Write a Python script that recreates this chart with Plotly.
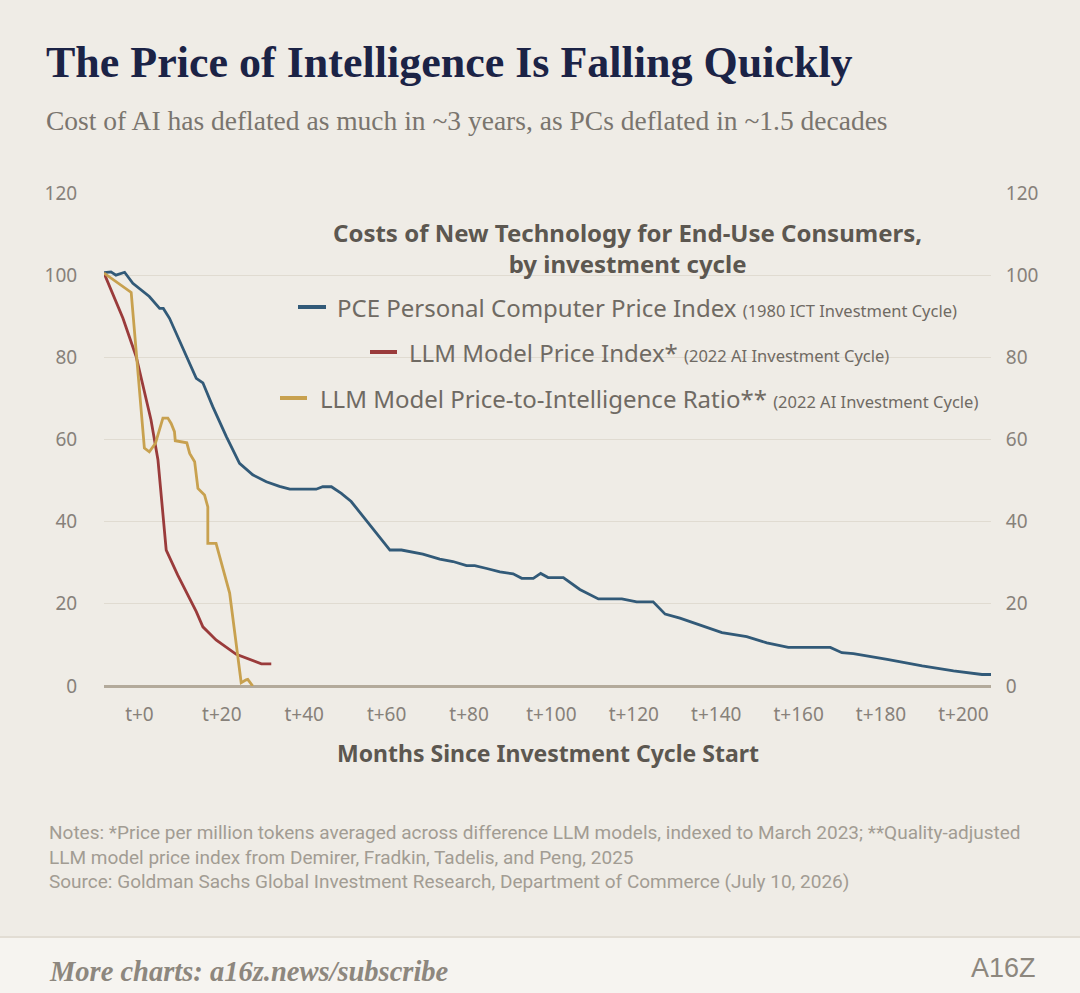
import plotly.graph_objects as go

# months since cycle start and index values
pc_months = [-8.6, -6.9, -5.7, -3.6, -1.6, 0, 2.4, 4.9, 5.8, 7.3, 13.8, 15.4, 17.8, 21.1, 24.3, 27.5,
             30.8, 34.0, 36.5, 42.9, 44.5, 46.6, 49.0, 51.4, 60.8, 63.6, 68.8, 72.9, 76.1, 79.4, 81.4,
             84.3, 87.5, 90.7, 92.8, 95.6, 97.4, 99.2, 102.9, 106.9, 111.4, 117.1, 120.7, 124.7, 127.6,
             131.2, 136.1, 141.4, 147.4, 152.3, 157.5, 167.7, 170.5, 173.3, 181.5, 190.0, 197.6, 204.5, 206.7]
pc_index = [100.6, 100.8, 100.0, 100.7, 98.0, 96.8, 94.8, 91.9, 91.9, 89.5, 74.9, 73.8, 68.0, 60.7, 54.2, 51.4,
            49.7, 48.6, 47.9, 47.9, 48.5, 48.5, 46.9, 44.9, 33.1, 33.1, 32.1, 30.9, 30.3, 29.3, 29.3,
            28.6, 27.8, 27.3, 26.2, 26.2, 27.4, 26.4, 26.4, 23.5, 21.2, 21.2, 20.5, 20.5, 17.5,
            16.5, 14.8, 13.0, 12.0, 10.5, 9.4, 9.4, 8.1, 7.9, 6.5, 4.9, 3.7, 2.8, 2.8]

llm_months = [-8.6, -4.0, -0.8, 0.8, 2.8, 4.5, 6.5, 9.3, 13.8, 15.4, 18.6, 23.5, 27.5, 29.6, 32.0]
llm_index = [100.5, 89.5, 80.2, 73.3, 64.8, 55.0, 33.1, 27.0, 18.1, 14.4, 11.2, 7.7, 6.3, 5.4, 5.4]

ratio_months = [-8.6, -2.0, 1.2, 2.4, 3.9, 5.7, 6.9, 7.7, 8.5, 8.7, 11.5, 12.2, 13.4, 14.2, 15.8,
                16.6, 16.6, 18.6, 21.9, 24.7, 25.9, 26.3, 27.5]
ratio_index = [100.5, 95.8, 57.9, 57.0, 59.1, 65.2, 65.2, 63.9, 61.9, 59.7, 59.2, 56.6, 54.6, 48.1, 46.5,
               43.6, 34.7, 34.7, 22.6, 0.8, 1.5, 1.6, 0]

tick_months = [0, 20, 40, 60, 80, 100, 120, 140, 160, 180, 200]
tick_labels = ["t+" + str(m) for m in tick_months]
y_ticks = [0, 20, 40, 60, 80, 100, 120]

BG = "#efece6"
BLUE = "#325a78"
RED = "#9a3b3b"
GOLD = "#c8a14f"
GREY = "#6f6a63"
TICK = "#87817a"
SANS = "Noto Sans"
SERIF = "Liberation Serif"

W, H = 1080, 993
L, R, T, B = 104, 89, 193, 307
PW, PH = W - L - R, H - T - B


def px(x):
    return (x - L) / PW


def py(y):
    return (H - B - y) / PH


def note(text, x, y, size, color, family=SANS, xanchor="left", align="left"):
    return dict(text=text, x=px(x), y=py(y), xref="paper", yref="paper", xanchor=xanchor,
                yanchor="middle", align=align, showarrow=False,
                font=dict(family=family, size=size, color=color))


fig = go.Figure()
fig.add_trace(go.Scatter(x=pc_months, y=pc_index, mode="lines", line=dict(color=BLUE, width=2.8),
                         hoverinfo="skip"))
fig.add_trace(go.Scatter(x=llm_months, y=llm_index, mode="lines", line=dict(color=RED, width=2.8),
                         hoverinfo="skip"))
fig.add_trace(go.Scatter(x=ratio_months, y=ratio_index, mode="lines", line=dict(color=GOLD, width=2.8),
                         hoverinfo="skip"))
# empty trace so the right axis is drawn
fig.add_trace(go.Scatter(x=[None], y=[None], yaxis="y2", hoverinfo="skip"))

shapes = [
    # box behind the in-chart legend hides the gridlines
    dict(type="rect", xref="paper", yref="paper", x0=px(188), x1=px(985), y0=py(290), y1=py(210),
         fillcolor=BG, line_width=0, layer="between"),
    dict(type="rect", xref="paper", yref="paper", x0=px(290), x1=px(985), y0=py(420), y1=py(289),
         fillcolor=BG, line_width=0, layer="between"),
    # footer band
    dict(type="rect", xref="paper", yref="paper", x0=px(0), x1=px(W), y0=py(H), y1=py(937),
         fillcolor="#f6f4f0", line_width=0, layer="below"),
    dict(type="line", xref="paper", yref="paper", x0=px(0), x1=px(W), y0=py(937), y1=py(937),
         line=dict(color="#e2ddd4", width=2)),
]

legend_rows = [
    (BLUE, 298, 326, 307, 335, "PCE Personal Computer Price Index", "(1980 ICT Investment Cycle)"),
    (RED, 370, 397, 352, 407, "LLM Model Price Index*", "(2022 AI Investment Cycle)"),
    (GOLD, 280, 307, 398, 318, "LLM Model Price-to-Intelligence Ratio**", "(2022 AI Investment Cycle)"),
]

annotations = [
    note("<b>The Price of Intelligence Is Falling Quickly</b>", 44, 62, 44, "#1b2346", SERIF),
    note("Cost of AI has deflated as much in ~3 years, as PCs deflated in ~1.5 decades", 44, 120, 27.5,
         "#7a756e", SERIF),
    note("<b>Costs of New Technology for End-Use Consumers,<br>by investment cycle</b>", 627, 248, 24,
         "#5c5750", xanchor="center", align="center"),
    note("<b>Months Since Investment Cycle Start</b>", 548, 753, 23, "#5c5750", xanchor="center"),
    note("Notes: *Price per million tokens averaged across difference LLM models, indexed to March 2023; "
         "**Quality-adjusted<br>LLM model price index from Demirer, Fradkin, Tadelis, and Peng, 2025<br>"
         "Source: Goldman Sachs Global Investment Research, Department of Commerce (July 10, 2026)",
         47, 857, 19, "#a29c93", "Roboto"),
    note("<b><i>More charts: a16z.news/subscribe</i></b>", 47, 971, 28.5, "#8d877e", SERIF),
    note("A16Z", 1003, 968, 27, "#8d877e", "Liberation Sans", xanchor="center"),
]

for color, s0, s1, ys, tx, label, cycle in legend_rows:
    shapes.append(dict(type="line", xref="paper", yref="paper", x0=px(s0), x1=px(s1), y0=py(ys), y1=py(ys),
                       line=dict(color=color, width=4)))
    annotations.append(note(label + " <span style='font-size:16.5px'>" + cycle + "</span>", tx, ys, 24, GREY))

fig.update_layout(
    width=W, height=H,
    margin=dict(l=L, r=R, t=T, b=B),
    paper_bgcolor=BG, plot_bgcolor=BG,
    showlegend=False,
    xaxis=dict(range=[-8.6, 206.7], tickvals=tick_months, ticktext=tick_labels, showgrid=False,
               zeroline=False, showline=False, ticks="outside", ticklen=11, tickcolor="rgba(0,0,0,0)",
               tickfont=dict(family=SANS, size=19, color=TICK)),
    yaxis=dict(range=[0, 120], tickvals=y_ticks, showgrid=True, gridcolor="#e0dbd1", gridwidth=1,
               zeroline=True, zerolinecolor="#b3aa9b", zerolinewidth=3, showline=False,
               ticks="outside", ticklen=22, tickcolor="rgba(0,0,0,0)",
               tickfont=dict(family=SANS, size=19, color=TICK)),
    yaxis2=dict(range=[0, 120], tickvals=y_ticks, overlaying="y", side="right", showgrid=False,
                zeroline=False, showline=False, ticks="outside", ticklen=10, tickcolor="rgba(0,0,0,0)",
                tickfont=dict(family=SANS, size=19, color=TICK)),
    shapes=shapes,
    annotations=annotations,
)

fig.write_html("out.html", config={"displayModeBar": False},
               post_script="document.body.style.margin='0';")
